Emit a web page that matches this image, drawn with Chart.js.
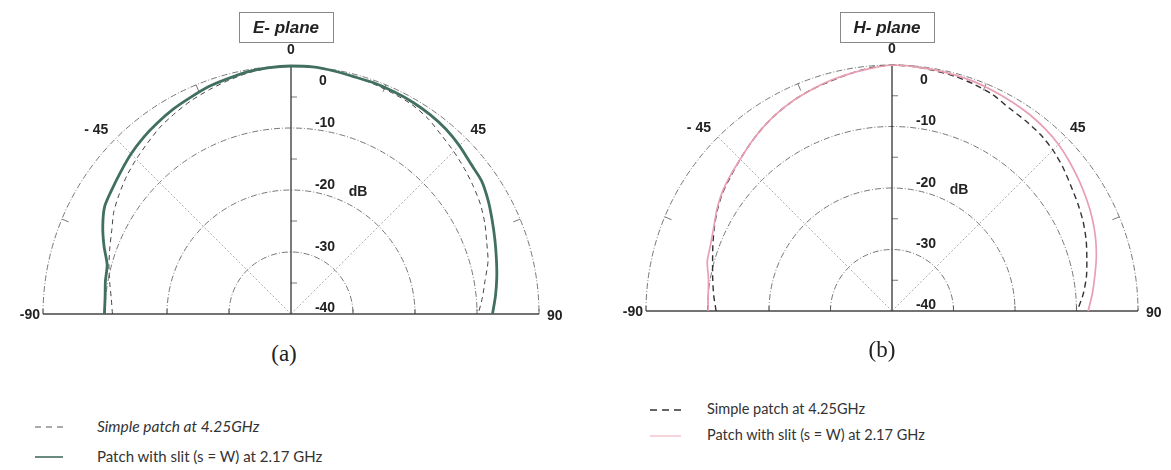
<!DOCTYPE html>
<html>
<head>
<meta charset="utf-8">
<script src="https://cdn.jsdelivr.net/npm/chart.js@4/dist/chart.umd.min.js"></script>
<style>
  body { margin: 0; background: #fff; width: 1171px; height: 470px; position: relative; overflow: hidden; }
  canvas { position: absolute; top: 0; }
  .cap { position: absolute; font-family: "Liberation Serif", serif; font-size: 23px; color: #222; transform: translateX(-50%); }
  .row { position: absolute; font-family: Lato, "Open Sans", sans-serif; font-size: 14.5px; color: #333; white-space: nowrap; line-height: 18px; }
  .row svg { position: absolute; top: 8px; }
  .row span { position: absolute; }
</style>
</head>
<body>
<canvas id="eplane" width="585" height="340" style="left:0"></canvas>
<canvas id="hplane" width="585" height="340" style="left:586px"></canvas>

<div class="cap" style="left:284px; top:341px">(a)</div>
<div class="cap" style="left:882px; top:337px">(b)</div>

<div class="row" style="left:35px; top:417px">
  <svg width="30" height="4"><line x1="0" y1="2" x2="28" y2="2" stroke="#555" stroke-width="1" stroke-dasharray="6,5"/></svg>
  <span style="left:62px; font-style:italic; font-size:15.5px">Simple patch at 4.25GHz</span>
</div>
<div class="row" style="left:35px; top:447px">
  <svg width="30" height="4"><line x1="0" y1="2" x2="28" y2="2" stroke="#6a8a80" stroke-width="2"/></svg>
  <span style="left:62px; font-size:15px">Patch with slit (s = W) at 2.17 GHz</span>
</div>
<div class="row" style="left:650px; top:400px">
  <svg width="32" height="4"><line x1="0" y1="2" x2="31" y2="2" stroke="#333" stroke-width="1.6" stroke-dasharray="7,5"/></svg>
  <span style="left:57px">Simple patch at 4.25GHz</span>
</div>
<div class="row" style="left:650px; top:426px">
  <svg width="32" height="4"><line x1="0" y1="2" x2="31" y2="2" stroke="#eaa8b8" stroke-width="1"/></svg>
  <span style="left:57px">Patch with slit (s = W) at 2.17 GHz</span>
</div>

<script>
// angles in degrees, levels in dB (-40 at centre, 0 on the outer ring)
const angles = [-90, -85, -80, -75, -70, -65, -60, -55, -50, -45, -40, -35, -30, -25, -20, -15, -10, -5,
  0, 5, 10, 15, 20, 25, 30, 35, 40, 45, 50, 55, 60, 65, 70, 75, 80, 85, 90];

// E-plane
const eSimple = [-11.2, -10.9, -10.3, -9.6, -8.9, -8.1, -7.0, -6.2, -5.4, -4.7, -4.0, -3.2, -2.6, -2.0, -1.5, -1.0, -0.5, -0.2,
  0, 0, -0.2, -0.4, -0.6, -0.8, -1.0, -1.5, -2.3, -2.9, -3.5, -4.1, -4.7, -5.5, -6.4, -7.1, -8.2, -9.0, -9.8];
const eSlit = [-9.9, -9.9, -9.6, -9.3, -7.9, -6.5, -5.3, -4.8, -4.2, -3.5, -2.9, -2.4, -1.9, -1.5, -1.0, -0.7, -0.3, -0.1,
  0, 0, -0.2, -0.4, -0.4, -0.5, -0.6, -0.8, -1.1, -1.6, -2.2, -2.5, -3.3, -4.2, -5.0, -5.7, -6.3, -6.9, -7.5];

// H-plane
const hSimple = [-11.4, -10.9, -10.4, -9.8, -9.0, -8.1, -7.2, -6.4, -5.8, -5.1, -4.3, -3.5, -2.8, -2.2, -1.7, -1.3, -0.8, -0.3,
  0, -0.1, -0.3, -0.5, -0.8, -1.2, -1.9, -2.2, -2.5, -3.0, -3.7, -4.5, -5.1, -5.7, -6.4, -7.2, -7.9, -8.8, -9.9];
const hSlit = [-10.1, -10.0, -9.7, -8.9, -8.6, -8.0, -7.1, -6.3, -5.7, -5.1, -4.3, -3.5, -2.8, -2.2, -1.7, -1.2, -0.8, -0.4,
  0, -0.1, -0.2, -0.3, -0.4, -0.6, -0.8, -1.0, -1.3, -1.7, -2.3, -2.9, -3.5, -4.1, -4.8, -5.6, -6.5, -7.3, -8.1];

const rings = [-30, -20, -10, 0];
const ringLabels = ["0", "-10", "-20", "-30", "-40"];

function toXY(db) {
  return angles.map((a, i) => {
    const r = db[i] + 40;
    const t = a * Math.PI / 180;
    return { x: r * Math.sin(t), y: r * Math.cos(t) };
  });
}

// grid, axes and labels of a half polar plot
const polarDeco = {
  id: "polarDeco",
  beforeDatasetsDraw(chart, args, opts) {
    const { ctx } = chart;
    const xs = chart.scales.x, ys = chart.scales.y;
    const cx = xs.getPixelForValue(0), cy = ys.getPixelForValue(0);
    const ux = (xs.getPixelForValue(40) - cx) / 40;
    const uy = (cy - ys.getPixelForValue(40)) / 40;
    ctx.save();

    // rings
    ctx.strokeStyle = "#555";
    ctx.lineWidth = 0.8;
    ctx.setLineDash([6, 2, 1, 2]);
    rings.forEach(db => {
      const r = db + 40;
      ctx.beginPath();
      ctx.ellipse(cx, cy, r * ux, r * uy, 0, Math.PI, 2 * Math.PI);
      ctx.stroke();
    });

    // 45 degree spokes
    ctx.strokeStyle = "#999";
    ctx.setLineDash([2, 2]);
    [-45, 45].forEach(a => {
      const t = a * Math.PI / 180;
      ctx.beginPath();
      ctx.moveTo(cx, cy);
      ctx.lineTo(cx + 40 * Math.sin(t) * ux, cy - 40 * Math.cos(t) * uy);
      ctx.stroke();
    });
    ctx.setLineDash([]);

    // ticks on the outer ring
    ctx.strokeStyle = "#555";
    ctx.lineWidth = 0.8;
    [-67.5, -22.5, 22.5, 67.5].forEach(a => {
      const t = a * Math.PI / 180;
      ctx.beginPath();
      ctx.moveTo(cx + 40 * Math.sin(t) * ux, cy - 40 * Math.cos(t) * uy);
      ctx.lineTo(cx + 38.8 * Math.sin(t) * ux, cy - 38.8 * Math.cos(t) * uy);
      ctx.stroke();
    });
    // minor ticks on the vertical axis
    [5, 15, 25, 35].forEach(r => {
      ctx.beginPath();
      ctx.moveTo(cx, cy - r * uy);
      ctx.lineTo(cx + 6, cy - r * uy);
      ctx.stroke();
    });
    // ticks on the baseline
    [-40, -30, -20, -10, 10, 20, 30, 40].forEach(r => {
      ctx.beginPath();
      ctx.moveTo(cx + r * ux, cy);
      ctx.lineTo(cx + r * ux, cy - 5);
      ctx.stroke();
    });

    // axes
    ctx.strokeStyle = "#222";
    ctx.lineWidth = 1.2;
    ctx.beginPath();
    ctx.moveTo(cx, cy);
    ctx.lineTo(cx, cy - 40 * uy);
    ctx.stroke();
    ctx.strokeStyle = "#444";
    ctx.lineWidth = 1.3;
    ctx.beginPath();
    ctx.moveTo(cx - 40 * ux, cy);
    ctx.lineTo(cx + 40 * ux, cy);
    ctx.stroke();
    ctx.restore();
  },
  afterDraw(chart, args, opts) {
    const { ctx } = chart;
    const xs = chart.scales.x, ys = chart.scales.y;
    const cx = xs.getPixelForValue(0), cy = ys.getPixelForValue(0);
    const ux = (xs.getPixelForValue(40) - cx) / 40;
    const uy = (cy - ys.getPixelForValue(40)) / 40;
    ctx.save();
    ctx.fillStyle = "#222";
    ctx.textAlign = "center";
    ctx.textBaseline = "middle";
    ctx.font = "bold 14px 'Liberation Sans', Arial, sans-serif";

    // ring values
    const ly = [37.6, 30.8, 20.8, 10.8, 1.0];
    ringLabels.forEach((t, i) => {
      ctx.fillText(t, cx + (i === 0 ? 32 : 34), cy - ly[i] * uy);
    });
    ctx.fillText("dB", cx + 67, cy - 19.6 * uy);

    // angle labels
    ctx.fillText("0", cx, cy - 42.6 * uy);
    ctx.fillText("- 45", cx - 31.4 * ux, cy - 29.7 * uy);
    ctx.fillText("45", cx + 30.2 * ux, cy - 29.7 * uy);
    ctx.textAlign = "right";
    ctx.fillText("-90", cx - 40 * ux - 3, cy + 1);
    ctx.textAlign = "left";
    ctx.fillText("90", cx + 40 * ux + 8, cy + 2);

    // title box
    ctx.font = "bold italic 17px 'Liberation Sans', Arial, sans-serif";
    ctx.textAlign = "center";
    const bx = cx - 5, by = opts.titleY;
    ctx.fillText(opts.title, bx, by + 1);
    ctx.strokeStyle = "#888";
    ctx.lineWidth = 1;
    ctx.strokeRect(Math.round(bx - 47) + 0.5, Math.round(by - 15) + 0.5, 94, 30);
    ctx.restore();
  }
};

function makePlane(id, title, titleY, pad, simple, slit, slitColor, slitWidth, simpleStyle) {
  const dashed = {
    label: "Simple patch at 4.25GHz",
    data: toXY(simple),
    borderColor: simpleStyle.color,
    borderWidth: simpleStyle.width,
    borderDash: simpleStyle.dash,
    order: 2
  };
  const solid = {
    label: "Patch with slit (s = W) at 2.17 GHz",
    data: toXY(slit),
    borderColor: slitColor,
    borderWidth: slitWidth,
    order: 1
  };
  [dashed, solid].forEach(d => {
    d.showLine = true;
    d.pointRadius = 0;
    d.tension = 0.25;
    d.clip = false;
    d.fill = false;
  });

  new Chart(document.getElementById(id), {
    type: "scatter",
    data: { datasets: [dashed, solid] },
    options: {
      responsive: false,
      animation: false,
      layout: { padding: pad },
      plugins: {
        legend: { display: false },
        tooltip: { enabled: false },
        polarDeco: { title, titleY }
      },
      scales: {
        x: { type: "linear", min: -40, max: 40, display: false },
        y: { type: "linear", min: 0, max: 40, display: false }
      }
    },
    plugins: [polarDeco]
  });
}

makePlane("eplane", "E- plane", 27, { left: 43, right: 46, top: 66, bottom: 26 },
  eSimple, eSlit, "#41705f", 2.8, { color: "#444", width: 1, dash: [5, 4] });
makePlane("hplane", "H- plane", 27, { left: 60, right: 33, top: 65, bottom: 29 },
  hSimple, hSlit, "#e99fb2", 1.7, { color: "#333", width: 1.4, dash: [6, 4] });
</script>
</body>
</html>
